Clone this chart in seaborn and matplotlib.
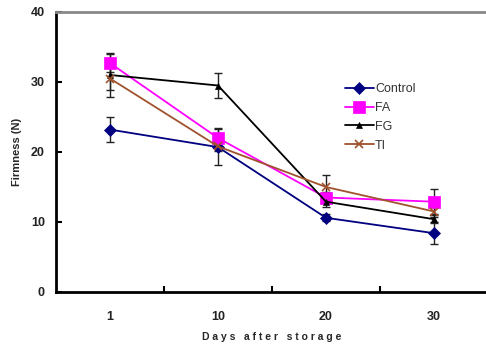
import matplotlib
matplotlib.use("Agg")
import matplotlib.pyplot as plt
import seaborn as sns
import pandas as pd
import numpy as np

days = ["1", "10", "20", "30"]
control = [23.2, 20.7, 10.6, 8.4]
control_err = [1.8, 0.6, 0.5, 1.6]
fa = [32.7, 22.0, 13.5, 12.9]
fa_err = [1.3, 1.3, 0.8, 1.8]
fg = [31.0, 29.5, 12.9, 10.4]
fg_err = [3.1, 1.8, 0.8, 0.6]
ti = [30.5, 20.8, 15.0, 11.5]
ti_err = [1.7, 2.7, 1.7, 0.8]

series = {"Control": (control, control_err), "FA": (fa, fa_err),
          "FG": (fg, fg_err), "TI": (ti, ti_err)}
colors = {"Control": "#000080", "FA": "#FF00FF", "FG": "#000000", "TI": "#A0522D"}
markers = {"Control": "D", "FA": "s", "FG": "^", "TI": "x"}
msizes = {"Control": 6, "FA": 9, "FG": 5, "TI": 6}

rows = []
for name, (vals, errs) in series.items():
    for i, (v, e) in enumerate(zip(vals, errs)):
        rows.append({"pos": i, "day": days[i], "value": v, "err": e, "group": name})
df = pd.DataFrame(rows)

sns.set_style("white")
plt.rcParams['font.family'] = ['Liberation Sans', 'DejaVu Sans']

fig = plt.figure(figsize=(4.86, 3.46), dpi=100)
ax = fig.add_axes([56/486, (346-292)/346, (488-56)/486, (292-12)/346])

for name in series:
    sub = df[df.group == name]
    ax.errorbar(sub.pos, sub.value, yerr=sub.err, fmt="none", ecolor="#222222",
                elinewidth=1, capsize=3, capthick=1, zorder=2)

for name in series:
    sub = df[df.group == name]
    sns.lineplot(data=sub, x="pos", y="value", color=colors[name], marker=markers[name],
                 markersize=msizes[name], markeredgecolor=colors[name],
                 markeredgewidth=1.2 if name == "TI" else 0.5,
                 linewidth=1.3, label=name, ax=ax, zorder=3)

ax.set_xlim(-0.5, 3.5)
ax.set_ylim(0, 40)
ax.set_xticks(range(len(days)))
ax.set_xticklabels(days)
ax.set_xticks([0.5, 1.5, 2.5], minor=True)
ax.set_yticks([0, 10, 20, 30, 40])
ax.tick_params(axis="x", which="major", length=0, pad=14, labelsize=9)
ax.tick_params(axis="x", which="minor", direction="in", length=4, width=1.5, color="black", bottom=True)
ax.tick_params(axis="y", which="major", direction="in", length=4, width=1.5, color="black",
               labelsize=9, pad=8, left=True)
for lab in ax.get_xticklabels() + ax.get_yticklabels():
    lab.set_fontweight("bold")
    lab.set_color("#222222")

ax.set_xlabel("D a y s   a f t e r   s t o r a g e", fontsize=7.5, fontweight="bold", labelpad=6)
ax.set_ylabel("Firmness (N)", fontsize=8, fontweight="bold", labelpad=6)

for s in ["left", "bottom"]:
    ax.spines[s].set_color("black")
    ax.spines[s].set_linewidth(2)
ax.spines["top"].set_color("#888888")
ax.spines["top"].set_linewidth(2)
ax.spines["right"].set_visible(False)

leg = ax.legend(loc="upper left", bbox_to_anchor=(340/486, 1 - 78/346),
                bbox_transform=fig.transFigure, frameon=False, fontsize=9,
                handlelength=2.3, handletextpad=0.1, labelspacing=0.55, borderaxespad=0)
for t in leg.get_texts():
    t.set_color("#333333")

fig.savefig("out.png", dpi=100)
